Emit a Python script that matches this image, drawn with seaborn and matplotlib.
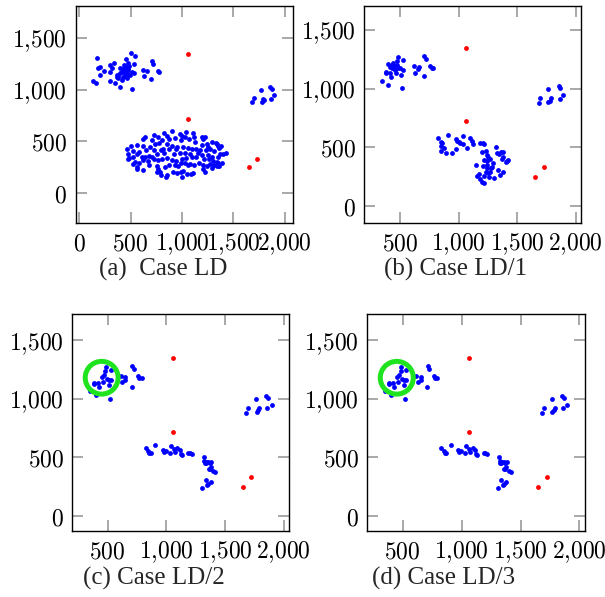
import matplotlib
matplotlib.use("Agg")
import matplotlib.pyplot as plt
from matplotlib.patches import Circle
from matplotlib.ticker import FuncFormatter, FixedLocator
import seaborn as sns

# ---- data ----

# red points, the same in every case
red_x = [1060, 1060, 1725, 1650]
red_y = [1350, 720, 330, 248]

# case LD
ld_top_x = [172, 136, 159, 178, 201, 204, 240, 295, 302, 295, 341, 347, 370, 379, 392, 392, 412,
            422, 435, 444, 454, 454, 470, 477, 461, 499, 509, 532, 535, 538, 512, 493, 412, 477,
            623, 655, 632, 700, 707, 720, 762, 775, 428, 444, 396, 470, 379, 483, 438, 363, 321]
ld_top_y = [1311, 1087, 1065, 1214, 1220, 1139, 1184, 1236, 1171, 1081, 1259, 1061, 1139, 1110,
            1029, 1207, 1175, 1126, 1207, 1175, 1294, 1223, 1256, 1152, 1110, 1359, 1175, 1158,
            1246, 1327, 1003, 1142, 1094, 1191, 1191, 1184, 1133, 1107, 1278, 1246, 1184, 1175,
            1191, 1142, 1158, 1207, 1133, 1230, 1243, 1120, 1207]
ld_right_x = [1680, 1699, 1767, 1787, 1800, 1777, 1855, 1871, 1897, 1865]
ld_right_y = [877, 919, 1000, 913, 900, 880, 1023, 1010, 948, 909]
ld_bottom_x = [905, 1038, 980, 1002, 1103, 827, 723, 639, 850, 762, 1190, 1116, 1223, 1028, 623,
               704, 801, 872, 931, 989, 1070, 1125, 1206, 1294, 1326, 778, 736, 850, 947, 1009,
               898, 1190, 1336, 1352, 1378, 1239, 1255, 503, 564, 623, 688, 461, 522, 581, 649,
               727, 795, 814, 876, 944, 1054, 1093, 1132, 1177, 1229, 1275, 1313, 1359, 1401,
               1424, 477, 487, 525, 561, 607, 639, 675, 710, 752, 827, 918, 976, 1028, 1077, 1151,
               1190, 1249, 1288, 1346, 1369, 477, 542, 584, 623, 668, 730, 769, 808, 850, 898, 941,
               1002, 1041, 1093, 1135, 1216, 1262, 1297, 1340, 1385, 561, 519, 616, 678, 752, 762,
               785, 834, 872, 931, 963, 989, 1028, 1054, 1080, 1119, 1164, 1206, 1239, 1271, 1313,
               1352, 1362, 561, 752, 795, 840, 853, 915, 947, 989, 1012, 1044, 1002, 1083, 1109,
               1200, 1223, 1288, 1336]
ld_bottom_y = [602, 592, 566, 550, 576, 576, 560, 537, 550, 543, 543, 543, 537, 543, 517, 511, 511,
               517, 527, 511, 517, 495, 517, 495, 485, 479, 472, 472, 446, 446, 453, 462, 472, 456,
               453, 469, 446, 453, 462, 453, 446, 420, 407, 398, 414, 414, 414, 424, 420, 420, 433,
               420, 420, 414, 414, 420, 404, 430, 375, 388, 375, 333, 349, 375, 343, 343, 356, 349,
               372, 388, 375, 388, 388, 375, 381, 365, 365, 349, 349, 375, 323, 297, 284, 317, 310,
               323, 317, 330, 336, 317, 304, 323, 336, 349, 343, 323, 323, 310, 297, 291, 252, 278,
               220, 265, 259, 226, 204, 246, 265, 271, 259, 284, 291, 265, 278, 271, 284, 268, 259,
               278, 271, 284, 262, 226, 204, 174, 155, 168, 204, 187, 200, 213, 181, 148, 181, 194,
               226, 200, 239, 259]

# case LD/1
ld1_top_x = [346, 392, 374, 380, 397, 411, 417, 426, 434, 440, 448, 463, 468, 474, 483, 483, 497,
             505, 511, 520, 525, 454, 411, 431, 614, 628, 648, 659, 705, 719, 702, 756, 768, 782]
ld1_top_y = [1066, 1031, 1145, 1131, 1211, 1131, 1103, 1174, 1222, 1180, 1194, 1131, 1202, 1237,
             1274, 1174, 1174, 1117, 1003, 1160, 1245, 1160, 1188, 1202, 1197, 1137, 1165, 1188,
             1282, 1251, 1106, 1194, 1177, 1174]
ld1_right_x = [1682, 1693, 1765, 1762, 1779, 1787, 1856, 1867, 1893, 1862]
ld1_right_y = [875, 920, 1000, 883, 898, 918, 1023, 1006, 949, 915]
ld1_bottom_x = [819, 844, 850, 856, 847, 876, 890, 904, 941, 975, 975, 987, 1001, 1010, 1035, 1032,
                1072, 1095, 1109, 1124, 1183, 1209, 1218, 1201, 1232, 1238, 1249, 1266, 1243, 1315,
                1323, 1343, 1363, 1374, 1380, 1366, 1400, 1409, 1423, 1218, 1203, 1144, 1295, 1238,
                1232, 1266, 1272, 1252, 1258, 1218, 1169, 1152, 1181, 1195, 1215, 1303, 1337, 1352,
                1380, 1283, 1238]
ld1_bottom_y = [581, 547, 513, 533, 470, 490, 453, 601, 447, 487, 567, 556, 547, 533, 596, 524, 496,
                576, 556, 524, 539, 533, 527, 462, 465, 430, 413, 396, 382, 504, 453, 442, 456, 459,
                413, 396, 371, 385, 391, 391, 339, 348, 362, 319, 285, 291, 319, 276, 248, 257, 271,
                254, 228, 205, 194, 240, 305, 262, 291, 334, 348]

# case LD/2 and LD/3 (same picture)
ld2_top_x = [354, 402, 518, 615, 626, 652, 652, 711, 723, 706, 762, 771, 791, 385, 388, 419, 425,
             450, 473, 482, 487, 493, 510, 513, 530, 530, 464]
ld2_top_y = [1064, 1032, 1001, 1195, 1141, 1189, 1161, 1278, 1252, 1104, 1195, 1175, 1181, 1138,
             1127, 1132, 1101, 1184, 1204, 1241, 1275, 1169, 1161, 1118, 1246, 1161, 1146]
ld2_right_x = [1681, 1696, 1767, 1770, 1784, 1792, 1849, 1869, 1897, 1860]
ld2_right_y = [876, 918, 998, 884, 904, 918, 1024, 1010, 950, 918]
ld2_bottom_x = [825, 847, 856, 867, 907, 972, 981, 995, 1032, 1038, 1066, 1074, 1094, 1117, 1123,
                1134, 1188, 1202, 1216, 1318, 1324, 1330, 1338, 1344, 1358, 1370, 1378, 1370, 1364,
                1401, 1415, 1381, 1335, 1350, 1358, 1378, 1307]
ld2_bottom_y = [582, 556, 539, 533, 602, 562, 548, 556, 533, 596, 570, 548, 582, 562, 528, 519, 539,
                533, 528, 505, 468, 448, 453, 462, 462, 453, 419, 396, 399, 385, 376, 462, 305, 262,
                271, 291, 234]

# the green ring in cases LD/2 and LD/3
ring_center = (450, 1180)
ring_radius = 140

panels = [
    ("(a)  Case LD", ld_top_x + ld_right_x + ld_bottom_x, ld_top_y + ld_right_y + ld_bottom_y, False),
    ("(b) Case LD/1", ld1_top_x + ld1_right_x + ld1_bottom_x, ld1_top_y + ld1_right_y + ld1_bottom_y, False),
    ("(c) Case LD/2", ld2_top_x + ld2_right_x + ld2_bottom_x, ld2_top_y + ld2_right_y + ld2_bottom_y, True),
    ("(d) Case LD/3", ld2_top_x + ld2_right_x + ld2_bottom_x, ld2_top_y + ld2_right_y + ld2_bottom_y, True),
]

# ---- layout ----
W, H = 605, 597
boxes = [(75.5, 6, 293, 223), (364.3, 6, 581.3, 222.7), (72.3, 314, 289.3, 530.7), (367.3, 314, 585, 530.7)]
xlims = [(-37, 2079), (192, 2047), (200, 2047), (200, 2047)]
ylims = [(-294, 1813), (-145, 1707), (-128, 1725), (-128, 1725)]
captions_at = [(163, 269), (456, 269), (154, 578), (444, 578)]

sns.set_style("ticks")
plt.rcParams["mathtext.fontset"] = "cm"


def fmt(v, pos):
    s = f"{int(v):,}".replace(",", "{,}")
    return f"${s}$"


fig = plt.figure(figsize=(W / 100, H / 100), dpi=100)

for i, (cap, xs, ys, ring) in enumerate(panels):
    l, t, r, b = boxes[i]
    ax = fig.add_axes([l / W, 1 - b / H, (r - l) / W, (b - t) / H])
    sns.scatterplot(x=red_x, y=red_y, color="#ff0000", s=12, linewidth=0, ax=ax, zorder=3)
    sns.scatterplot(x=xs, y=ys, color="#0000ff", s=12, linewidth=0, ax=ax, zorder=3)
    if ring:
        ax.add_patch(Circle(ring_center, ring_radius, fill=False, edgecolor="#1fe31f", lw=3.6, zorder=4))
    ax.set_xlim(*xlims[i])
    ax.set_ylim(*ylims[i])
    ax.xaxis.set_major_locator(FixedLocator([0, 500, 1000, 1500, 2000]))
    ax.yaxis.set_major_locator(FixedLocator([0, 500, 1000, 1500]))
    ax.xaxis.set_major_formatter(FuncFormatter(fmt))
    ax.yaxis.set_major_formatter(FuncFormatter(fmt))
    ax.tick_params(direction="in", top=True, right=True, length=8, width=1.2,
                   color="#999999", labelsize=17, pad=6, labelcolor="black")
    for sp in ax.spines.values():
        sp.set_linewidth(1.0)
        sp.set_color("black")
        sp.set_visible(True)
    cx, cy = captions_at[i]
    fig.text(cx / W, 1 - cy / H, cap, ha="center", va="center",
             family=["Liberation Serif", "DejaVu Serif"], fontsize=18)

fig.savefig("out.png", dpi=100)
